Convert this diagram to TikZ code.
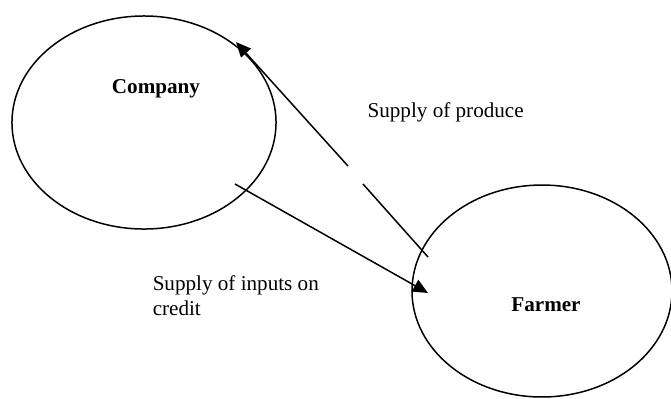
\documentclass[tikz,border=0pt]{standalone}
\usepackage{fontspec}
\setmainfont{Liberation Serif}
\usepackage{tikz}
\usetikzlibrary{positioning}
\usetikzlibrary{shapes.geometric}
\usetikzlibrary{arrows.meta}

\begin{document}
\begin{tikzpicture}[x=0.568pt, y=-0.568pt, line width=0.85pt,
    party/.style={ellipse, draw, inner sep=0pt},
    flow/.style={-{Triangle[length=8.5pt, width=7.5pt]}},
    every node/.style={font=\fontsize{12}{14}\selectfont}]
    \clip (0,0) rectangle (671,398);

    % Ellipses
    \node[party, minimum width=150pt, minimum height=121pt] (company) at (144,122.5) {};
    \node[party, minimum width=147.7pt, minimum height=120.4pt] (farmer) at (542,291) {};

    % Names
    \node[font=\fontsize{12}{14}\selectfont\bfseries] (companyname) at (156,89) {Company};
    \node[font=\fontsize{12}{14}\selectfont\bfseries] (farmername) at (546,305) {Farmer};

    % Arrow ends
    \coordinate (prodstart) at (428,257);
    \coordinate (gaplow) at (363,184);
    \coordinate (gaphigh) at (348,166);
    \coordinate (prodend) at (236,42);
    \coordinate (inpstart) at (235,184);
    \coordinate (inpend) at (428,293);

    % Flows
    \draw (prodstart) -- (gaplow);
    \draw[flow] (gaphigh) -- (prodend);
    \draw[flow] (inpstart) -- (inpend);

    % Labels
    \node[anchor=west] (produce) at (361,112) {Supply of produce};
    \node[anchor=north west, align=left, inner sep=0pt] (inputs) at (152,275) {Supply of inputs on\\credit};
\end{tikzpicture}
\end{document}
